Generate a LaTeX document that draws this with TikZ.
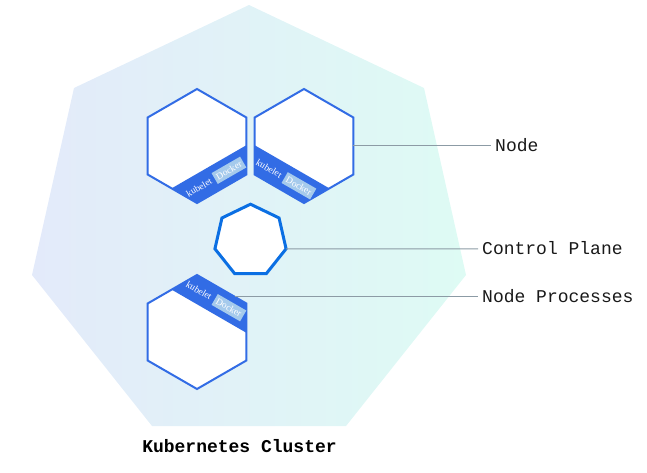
\documentclass[tikz,border=0pt]{standalone}
\usepackage{fontspec}
\setmainfont{Liberation Serif}
\newfontfamily\monofont{Liberation Mono}
\usetikzlibrary{shapes.geometric,calc}
\definecolor{k8sblue}{HTML}{326CE5}
\definecolor{cpblue}{HTML}{0B6FE3}
\definecolor{dockerbg}{HTML}{A5CAEC}
\definecolor{leader}{HTML}{8C9BA5}
\definecolor{clusterL}{HTML}{E3EAFA}
\definecolor{clusterR}{HTML}{DEFBF4}
\begin{document}
\begin{tikzpicture}[x=1pt,y=1pt,
  hexnode/.style={regular polygon, regular polygon sides=6, shape border rotate=30,
    minimum size=114pt, inner sep=0pt, outer sep=0pt, draw=k8sblue, line width=2pt, fill=white},
  cpnode/.style={regular polygon, regular polygon sides=7, minimum size=73pt,
    inner sep=0pt, outer sep=0pt, draw=cpblue, line width=3pt, fill=white},
  band/.style={fill=k8sblue},
  kubeletlbl/.style={text=white, font=\fontsize{9.5}{10}\selectfont, inner sep=0pt},
  dockerlbl/.style={fill=dockerbg, text=white, font=\fontsize{9.5}{10}\selectfont,
    inner xsep=2.5pt, inner ysep=0pt, minimum height=12.5pt},
  leaderline/.style={draw=leader, line width=1pt},
  calllbl/.style={font=\monofont\fontsize{18}{20}\selectfont, text=black!90, anchor=west,
    inner sep=4pt, text height=11.2pt, text depth=0pt},
  titlelbl/.style={font=\monofont\bfseries\fontsize{18}{20}\selectfont, text=black,
    inner sep=2pt, text height=11.2pt, text depth=0pt},
]
\useasboundingbox (0,0) rectangle (647,472);

% cluster background
\path[left color=clusterL, right color=clusterR]
  (249,467) -- (424,384) -- (466,197) -- (346,46) -- (152,46) -- (32,197) -- (74,384) -- cycle;

% nodes
\node[hexnode] (n1) at (197,326) {};
\node[hexnode] (n2) at (304,326) {};
\node[hexnode] (n3) at (197,140) {};
\node[cpnode] (cp) at (250.5,231.3) {};

% bands
\begin{scope}
  \clip (n1.corner 1) -- (n1.corner 2) -- (n1.corner 3) -- (n1.corner 4) -- (n1.corner 5) -- (n1.corner 6) -- cycle;
  \fill[band, shift={(n1.center)}, rotate=30] (-80,-24) rectangle (80,-90);
\end{scope}
\begin{scope}
  \clip (n2.corner 1) -- (n2.corner 2) -- (n2.corner 3) -- (n2.corner 4) -- (n2.corner 5) -- (n2.corner 6) -- cycle;
  \fill[band, shift={(n2.center)}, rotate=-30] (-80,-24) rectangle (80,-90);
\end{scope}
\begin{scope}
  \clip (n3.corner 1) -- (n3.corner 2) -- (n3.corner 3) -- (n3.corner 4) -- (n3.corner 5) -- (n3.corner 6) -- cycle;
  \fill[band, shift={(n3.center)}, rotate=-30] (-80,24) rectangle (80,90);
\end{scope}

% band texts
\begin{scope}[shift={(n1.center)}, rotate=30, transform shape]
  \node[kubeletlbl] (k1) at (-19,-37) {kubelet};
  \node[dockerlbl] (d1) at (15.5,-37) {Docker};
\end{scope}
\begin{scope}[shift={(n2.center)}, rotate=-30, transform shape]
  \node[kubeletlbl] (k2) at (-19,-37) {kubelet};
  \node[dockerlbl] (d2) at (15.5,-37) {Docker};
\end{scope}
\begin{scope}[shift={(n3.center)}, rotate=-30, transform shape]
  \node[kubeletlbl] (k3) at (-19,37) {kubelet};
  \node[dockerlbl] (d3) at (15.5,37) {Docker};
\end{scope}

% callouts
\node[calllbl] (nodelbl) at (491,326.5) {Node};
\draw[leaderline] (n2.east) ++(0,0.5) -- (nodelbl.west);

\coordinate (cpv) at ($(cp.center)+(-12.857:36.5)$);
\node[calllbl] (cplbl) at (478,223.2) {Control Plane};
\draw[leaderline] (cpv) -- (cplbl.west);

\coordinate (npv) at ($(n3.center)+(37.6,35.3)$);
\node[calllbl] (nplbl) at (478,175.3) {Node Processes};
\draw[leaderline] (npv) -- (nplbl.west);

% title
\node[titlelbl] (title) at (239.5,25.5) {Kubernetes Cluster};
\end{tikzpicture}
\end{document}
